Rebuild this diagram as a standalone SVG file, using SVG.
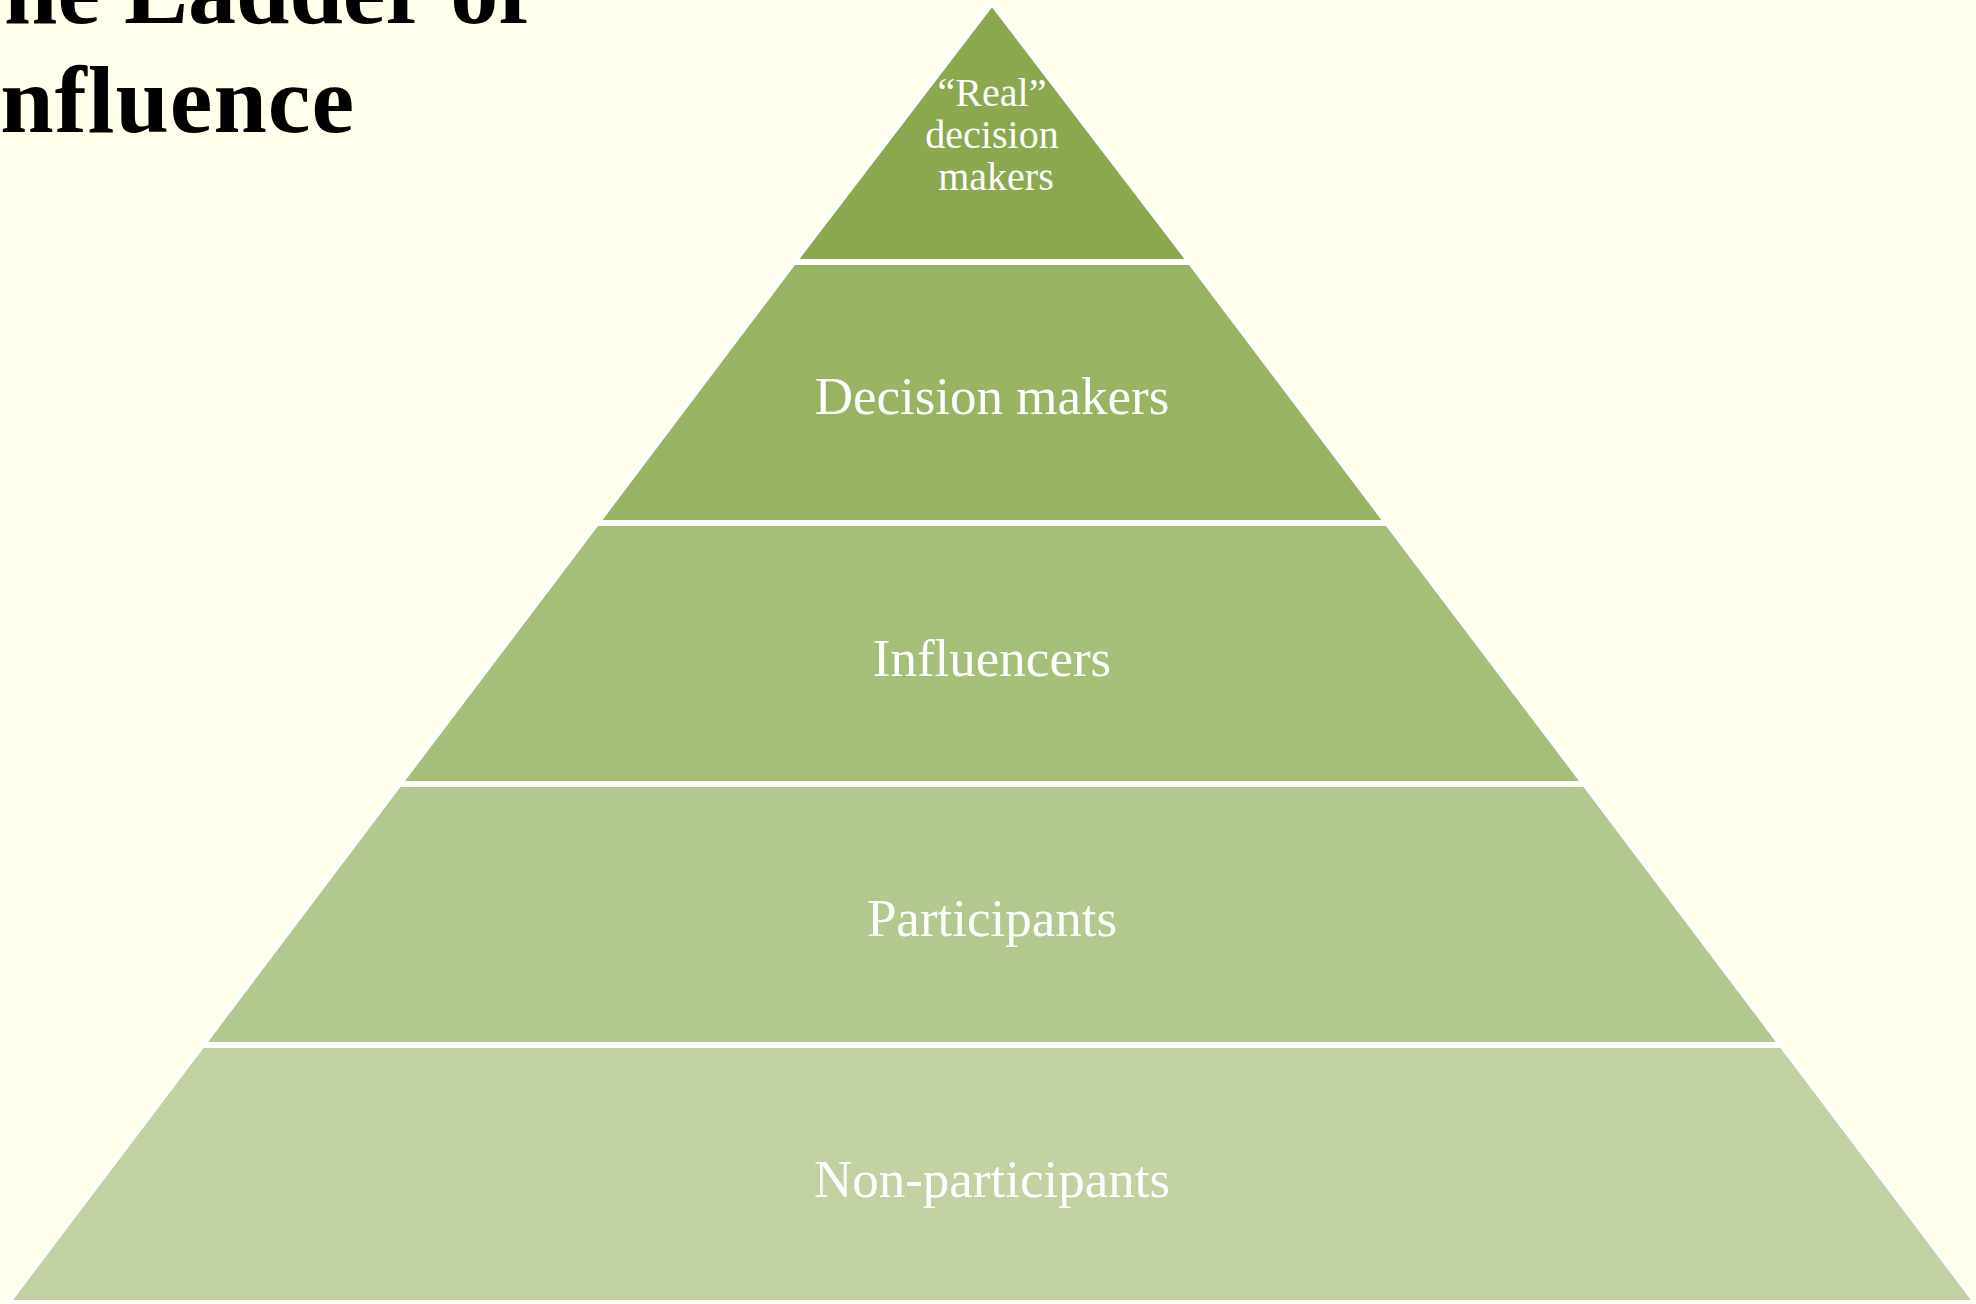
<svg xmlns="http://www.w3.org/2000/svg" width="1976" height="1304" viewBox="0 0 1976 1304">
<style>
.seg{stroke:#FFFFFF;stroke-width:4;stroke-linejoin:miter}
.lbl{font-family:"Liberation Serif","DejaVu Serif",serif;fill:#FFFFFF;text-anchor:middle}
.title{font-family:"Liberation Serif","DejaVu Serif",serif;font-weight:bold;font-size:96px;fill:#000000}
</style>
<rect x="0" y="0" width="1976" height="1304" fill="#FFFFEC"/>
<g id="title">
<text class="title" x="-60" y="23">The Ladder of</text>
<text class="title" x="-38" y="132" textLength="392" lengthAdjust="spacing">Influence</text>
</g>
<g id="level1">
<polygon class="seg" fill="#8CA84F" points="992,4 1188.5,261 795.5,261"/>
<text class="lbl" font-size="40" x="992" y="106">“Real”</text>
<text class="lbl" font-size="40" x="992" y="148">decision</text>
<text class="lbl" font-size="40" x="996" y="190">makers</text>
</g>
<g id="level2">
<polygon class="seg" fill="#98B462" points="794,263 1190,263 1385.5,522 598.5,522"/>
<text class="lbl" font-size="53" x="992" y="414">Decision makers</text>
</g>
<g id="level3">
<polygon class="seg" fill="#A6BF78" points="597,524 1387,524 1583,783 401,783"/>
<text class="lbl" font-size="53" x="992" y="676">Influencers</text>
</g>
<g id="level4">
<polygon class="seg" fill="#B3C88E" points="399.5,785 1584.5,785 1780,1044 204,1044"/>
<text class="lbl" font-size="53" x="992" y="936">Participants</text>
</g>
<g id="level5">
<polygon class="seg" fill="#C1D1A2" points="202.5,1046 1781.5,1046 1975,1302 9,1302"/>
<text class="lbl" font-size="53" x="992" y="1197">Non-participants</text>
</g>
<g id="connectors"></g>
</svg>
